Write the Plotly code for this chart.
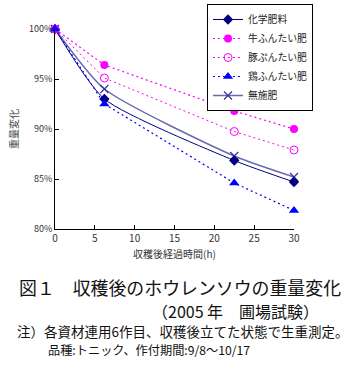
import plotly.graph_objects as go

hours = [0, 6.2, 22.5, 30]
chem = [100, 93.0, 86.85, 84.7]
cow = [100, 96.4, 91.8, 90.0]
pig = [100, 95.1, 89.75, 87.9]
chicken = [100, 92.5, 84.6, 81.85]
nofert = [100, 94.0, 87.3, 85.2]

names = ["化学肥料", "牛ふんたい肥", "豚ぷんたい肥", "鶏ふんたい肥", "無施肥"]
x_ticks = [0, 5, 10, 15, 20, 25, 30]
y_ticks = [80, 85, 90, 95, 100]
y_tick_labels = ["80%", "85%", "90%", "95%", "100%"]

FONT = "Noto Sans CJK JP, Liberation Sans, sans-serif"
DOT = "2px,3px"

fig = go.Figure()
fig.add_trace(go.Scatter(x=hours, y=nofert, name=names[4], mode="lines+markers",
                         line=dict(color="#6A6AAE", width=1.5, shape="spline", smoothing=0.6),
                         marker=dict(symbol="x-thin", size=8, line=dict(color="#333399", width=1.2)),
                         cliponaxis=False))
fig.add_trace(go.Scatter(x=hours, y=chem, name=names[0], mode="lines+markers",
                         line=dict(color="#000080", width=1, shape="spline", smoothing=0.6),
                         marker=dict(symbol="diamond", size=8, color="#000080"),
                         cliponaxis=False))
fig.add_trace(go.Scatter(x=hours, y=cow, name=names[1], mode="lines+markers",
                         line=dict(color="#FF00FF", width=1.2, dash=DOT),
                         marker=dict(symbol="circle", size=8, color="#FF00FF"),
                         cliponaxis=False))
fig.add_trace(go.Scatter(x=hours, y=pig, name=names[2], mode="lines+markers",
                         line=dict(color="#FF00FF", width=1, dash=DOT),
                         marker=dict(symbol="circle-open", size=8, color="#FF00FF", line=dict(width=1)),
                         cliponaxis=False))
fig.add_trace(go.Scatter(x=hours, y=chicken, name=names[3], mode="lines+markers",
                         line=dict(color="#0000FF", width=1.2, dash=DOT),
                         marker=dict(symbol="triangle-up", size=9, color="#0000FF"),
                         cliponaxis=False))

fig.update_layout(
    width=362, height=365,
    margin=dict(l=55, r=68, t=29, b=136, autoexpand=False),
    paper_bgcolor="white", plot_bgcolor="white",
    font=dict(family=FONT, size=9, color="#333333"),
    showlegend=True,
    legend=dict(x=(207 - 55) / 239, y=(229 - 4) / 200, xanchor="left", yanchor="top",
                bordercolor="black", borderwidth=1, bgcolor="white",
                font=dict(size=9.8, color="#222222"), traceorder="normal",
                tracegroupgap=0, itemwidth=30),
    xaxis=dict(range=[0, 30], tickvals=x_ticks, ticks="inside", ticklen=4,
               tickcolor="black", showline=True, linecolor="black", linewidth=1,
               showgrid=False, zeroline=False, tickfont=dict(size=10, color="#333333"),
               automargin=False,
               title=dict(text="収穫後経過時間(h)", font=dict(size=10, color="#333333"), standoff=6)),
    yaxis=dict(range=[80, 100], tickvals=y_ticks, ticktext=y_tick_labels, ticks="inside",
               ticklen=4, tickcolor="black", showline=True, linecolor="black", linewidth=1,
               showgrid=False, zeroline=False, tickfont=dict(size=9, color="#333333"),
               automargin=False,
               title=dict(text="重量変化", font=dict(size=10, color="#444444"), standoff=8)),
)

order = {n: i for i, n in enumerate(names)}
for tr in fig.data:
    tr.legendrank = order[tr.name]

caps = [
    ("図１　収穫後のホウレンソウの重量変化", 17, 287, 17.9),
    ("（2005 年　圃場試験）", 150, 311, 16),
    ("注）各資材連用6作目、収穫後立てた状態で生重測定。", 15, 331, 13.5),
    ("品種:トニック、作付期間:9/8～10/17", 46, 349.5, 12.2),
]
for text, x, y, size in caps:
    fig.add_annotation(text=text, xref="paper", yref="paper",
                       x=(x - 55) / 239, y=(365 - 136 - y) / 200,
                       xanchor="left", yanchor="middle", showarrow=False,
                       font=dict(size=size, color="#111111", family=FONT))

fig.write_html("out.html", config={"displayModeBar": False},
               post_script="document.body.style.margin='0';")
